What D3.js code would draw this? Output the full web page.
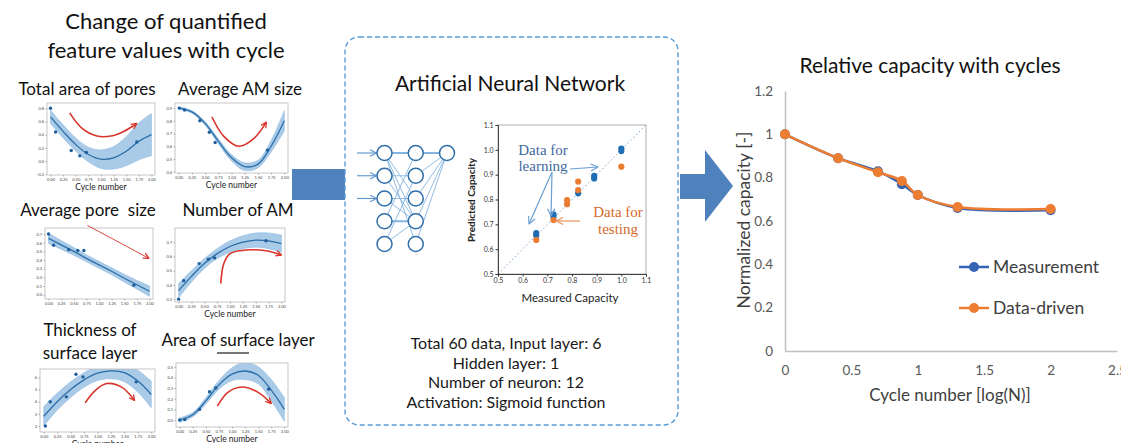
<!DOCTYPE html>
<html>
<head>
<meta charset="utf-8">
<script src="https://cdn.jsdelivr.net/npm/d3@7"></script>
<style>
  html, body { margin: 0; padding: 0; background: #ffffff; }
  svg { display: block; font-family: Lato, "Open Sans", sans-serif; }
</style>
</head>
<body>
<svg id="fig" width="1121" height="443"></svg>
<script>
// ---------------- relative capacity vs. cycles ----------------
const cycleLog   = [0, 0.4, 0.7, 0.88, 1.0, 1.3, 2.0];
const measured   = [1.0, 0.89, 0.83, 0.77, 0.72, 0.66, 0.65];
const dataDriven = [1.0, 0.89, 0.825, 0.785, 0.72, 0.665, 0.655];
const capTicksX  = [0, 0.5, 1, 1.5, 2, 2.5];
const capTicksY  = [0, 0.2, 0.4, 0.6, 0.8, 1, 1.2];
const seriesNames = ["Measurement", "Data-driven"];

// ---------------- ANN parity plot ----------------
const learnMeasured  = [0.655, 0.655, 0.725, 0.725, 0.825, 0.89, 0.89, 1.0, 1.0];
const learnPredicted = [0.665, 0.655, 0.74, 0.73, 0.825, 0.895, 0.885, 1.005, 0.995];
const testMeasured   = [0.655, 0.725, 0.78, 0.78, 0.825, 0.825, 1.0];
const testPredicted  = [0.637, 0.717, 0.798, 0.781, 0.872, 0.838, 0.932];
const parityTicks    = [0.5, 0.6, 0.7, 0.8, 0.9, 1.0, 1.1];
const annNotes = ["Total 60 data, Input layer: 6", "Hidden layer: 1", "Number of neuron: 12", "Activation: Sigmoid function"];

// network sketch: nodes per layer and drawn links (input index -> hidden index)
const layerSizes = [5, 5, 1];
const inputLinks = [[0,0],[0,2],[0,3],[0,4],[1,1],[1,3],[2,2],[2,3],[3,3],[4,3],[3,0],[4,1]];

// ---------------- feature values vs. cycle number ----------------
const fitX = [0, 0.25, 0.5, 0.75, 1.0, 1.25, 1.5, 1.75, 2.0];
const cycleTicks = [0, 0.25, 0.5, 0.75, 1.0, 1.25, 1.5, 1.75, 2.0];

// total area of pores
const poreAreaX    = [0.0, 0.1, 0.41, 0.58, 0.71, 1.71];
const poreAreaY    = [0.80, 0.44, 0.16, 0.08, 0.13, 0.29];
const poreAreaFit  = [0.67, 0.45, 0.25, 0.10, 0.03, 0.05, 0.15, 0.30, 0.40];
const poreAreaBand = [0.10, 0.10, 0.10, 0.11, 0.14, 0.17, 0.22, 0.28, 0.32];
const poreAreaTicks = [-0.2, 0, 0.2, 0.4, 0.6, 0.8];
const poreAreaTrend = [[0.38,0.73],[0.62,0.5],[0.92,0.38],[1.2,0.38],[1.45,0.45],[1.71,0.57]];

// average AM size
const amSizeX    = [0.01, 0.11, 0.4, 0.58, 0.69, 1.68];
const amSizeY    = [0.90, 0.885, 0.80, 0.71, 0.63, 0.57];
const amSizeFit  = [0.90, 0.87, 0.78, 0.64, 0.51, 0.44, 0.46, 0.60, 0.80];
const amSizeBand = [0.01, 0.01, 0.015, 0.02, 0.025, 0.03, 0.03, 0.045, 0.08];
const amSizeTicks = [0.4, 0.5, 0.6, 0.7, 0.8, 0.9];
const amSizeTrend = [[0.63,0.83],[0.85,0.68],[1.14,0.6],[1.42,0.66],[1.66,0.79]];

// average pore size
const poreSizeX    = [0.0, 0.1, 0.4, 0.58, 0.7, 1.69];
const poreSizeY    = [0.70, 0.57, 0.52, 0.51, 0.51, 0.11];
const poreSizeFit  = [0.65, 0.575, 0.50, 0.42, 0.345, 0.27, 0.19, 0.115, 0.04];
const poreSizeBand = [0.06, 0.05, 0.045, 0.04, 0.04, 0.04, 0.045, 0.05, 0.06];
const poreSizeTicks = [0, 0.1, 0.2, 0.3, 0.4, 0.5, 0.6, 0.7];
const poreSizeTrend = [[0.77,0.8],[1.99,0.42]];

// number of AM
const amCountX    = [0.0, 0.1, 0.4, 0.58, 0.7, 1.7];
const amCountY    = [0.30, 0.43, 0.55, 0.58, 0.59, 0.71];
const amCountFit  = [0.36, 0.46, 0.55, 0.62, 0.67, 0.70, 0.715, 0.71, 0.69];
const amCountBand = [0.05, 0.04, 0.035, 0.035, 0.04, 0.045, 0.05, 0.055, 0.06];
const amCountTicks = [0.3, 0.4, 0.5, 0.6, 0.7];
const amCountTrend = [[0.82,0.41],[0.88,0.55],[1.0,0.62],[1.3,0.645],[1.7,0.64],[2.0,0.61]];

// thickness of surface layer
const thickX    = [0.03, 0.12, 0.42, 0.6, 0.73, 1.72];
const thickY    = [2.0, 4.0, 4.4, 6.27, 6.05, 5.64];
const thickFit  = [2.8, 4.0, 5.0, 5.8, 6.35, 6.55, 6.4, 5.7, 4.6];
const thickBand = [0.8, 0.7, 0.65, 0.6, 0.6, 0.65, 0.75, 0.9, 1.1];
const thickTicks = [2, 3, 4, 5, 6];
const thickTrend = [[0.77,3.9],[0.95,4.9],[1.17,5.5],[1.45,5.2],[1.69,4.1]];

// area of surface layer
const layerAreaX    = [0.0, 0.1, 0.38, 0.57, 0.69, 1.7];
const layerAreaY    = [0.0, 0.005, 0.10, 0.265, 0.30, 0.29];
const layerAreaFit  = [0.0, 0.05, 0.18, 0.33, 0.43, 0.46, 0.42, 0.28, 0.10];
const layerAreaBand = [0.02, 0.02, 0.03, 0.04, 0.06, 0.08, 0.08, 0.10, 0.11];
const layerAreaTicks = [0, 0.1, 0.2, 0.3, 0.4, 0.5];
const layerAreaTrend = [[0.72,0.13],[0.92,0.26],[1.19,0.31],[1.5,0.26],[1.75,0.155]];

// ==========================================================
const svg = d3.select("#fig");
const defs = svg.append("defs");

function chevron(id, color, size, width) {
  defs.append("marker")
    .attr("id", id)
    .attr("viewBox", "0 0 10 10")
    .attr("refX", 9).attr("refY", 5)
    .attr("markerWidth", size).attr("markerHeight", size)
    .attr("markerUnits", "userSpaceOnUse")
    .attr("orient", "auto")
    .append("path")
    .attr("d", "M1,1 L9,5 L1,9")
    .attr("fill", "none")
    .attr("stroke", color)
    .attr("stroke-width", width)
    .attr("stroke-linejoin", "round");
}
chevron("headRed", "#d9342b", 7, 1.8);
chevron("headBlue", "#6b9fd4", 9, 1.3);
chevron("headOrange", "#e8935a", 9, 1.3);
chevron("headNet", "#5b93cc", 8, 1.3);

svg.append("rect").attr("width", 1121).attr("height", 443).attr("fill", "#ffffff");

// ---------------- left: feature panels ----------------
const heading = svg.append("text")
  .attr("text-anchor", "middle").attr("font-size", 22).attr("fill", "#111");
heading.append("tspan").attr("x", 166).attr("y", 29).text("Change of quantified");
heading.append("tspan").attr("x", 166).attr("y", 58).text("feature values with cycle");

const panels = [
  { title: ["Total area of pores"], tx: 87, ty: [95], box: [47, 155, 103, 175], yDom: [-0.21, 0.88],
    px: poreAreaX, py: poreAreaY, fit: poreAreaFit, band: poreAreaBand, ticks: poreAreaTicks, trend: poreAreaTrend, fmt: ".1f", caption: true },
  { title: ["Average AM size"], tx: 240, ty: [95], box: [175, 288, 103, 173], yDom: [0.39, 0.94],
    px: amSizeX, py: amSizeY, fit: amSizeFit, band: amSizeBand, ticks: amSizeTicks, trend: amSizeTrend, fmt: ".1f", caption: true },
  { title: ["Average pore  size"], tx: 88, ty: [216], box: [45, 153, 228, 299], yDom: [-0.05, 0.77],
    px: poreSizeX, py: poreSizeY, fit: poreSizeFit, band: poreSizeBand, ticks: poreSizeTicks, trend: poreSizeTrend, fmt: ".1f", caption: false, straight: true },
  { title: ["Number of AM"], tx: 238, ty: [216], box: [175, 285, 228, 302], yDom: [0.28, 0.80],
    px: amCountX, py: amCountY, fit: amCountFit, band: amCountBand, ticks: amCountTicks, trend: amCountTrend, fmt: ".1f", caption: true },
  { title: ["Thickness of", "surface layer"], tx: 90, ty: [336, 359], box: [40, 155, 369, 432], yDom: [1.5, 6.7],
    px: thickX, py: thickY, fit: thickFit, band: thickBand, ticks: thickTicks, trend: thickTrend, fmt: ".0f", caption: true },
  { title: ["Area of surface layer"], tx: 238, ty: [346], box: [176, 288, 363, 427], yDom: [-0.065, 0.535],
    px: layerAreaX, py: layerAreaY, fit: layerAreaFit, band: layerAreaBand, ticks: layerAreaTicks, trend: layerAreaTrend, fmt: ".1f", caption: true }
];

panels.forEach((p, k) => {
  const [x0, x1, y0, y1] = p.box;
  const x = d3.scaleLinear().domain([-0.07, 2.07]).range([x0, x1]);
  const y = d3.scaleLinear().domain(p.yDom).range([y1, y0]);
  const g = svg.append("g");

  p.title.forEach((t, i) => {
    g.append("text").attr("x", p.tx).attr("y", p.ty[i])
      .attr("text-anchor", "middle").attr("font-size", 17).attr("fill", "#111")
      .style("white-space", "pre").text(t);
  });

  const clipId = "clip" + k;
  defs.append("clipPath").attr("id", clipId)
    .append("rect").attr("x", x0).attr("y", y0).attr("width", x1 - x0).attr("height", y1 - y0);

  const inner = g.append("g").attr("clip-path", `url(#${clipId})`);
  const curve = p.straight ? d3.curveLinear : d3.curveCatmullRom.alpha(0.5);

  inner.append("path")
    .datum(fitX)
    .attr("d", d3.area()
      .x(d => x(d))
      .y0((d, i) => y(p.fit[i] - p.band[i]))
      .y1((d, i) => y(p.fit[i] + p.band[i]))
      .curve(curve))
    .attr("fill", "#a9cbe8").attr("stroke", "#8fbbe0").attr("stroke-width", 0.6);

  inner.append("path")
    .datum(fitX)
    .attr("d", d3.line().x(d => x(d)).y((d, i) => y(p.fit[i])).curve(curve))
    .attr("fill", "none").attr("stroke", "#2b6ea8").attr("stroke-width", 1.3);

  inner.selectAll("circle.pt").data(p.px).join("circle")
    .attr("class", "pt")
    .attr("cx", d => x(d)).attr("cy", (d, i) => y(p.py[i]))
    .attr("r", 1.7).attr("fill", "#1f5f9c");

  // frame
  g.append("rect").attr("x", x0).attr("y", y0).attr("width", x1 - x0).attr("height", y1 - y0)
    .attr("fill", "none").attr("stroke", "#b8b8b8").attr("stroke-width", 0.8);

  // axes
  const ax = g.append("g").attr("transform", `translate(0,${y1})`)
    .call(d3.axisBottom(x).tickValues(cycleTicks).tickFormat(d3.format(".2f")).tickSize(1.5).tickPadding(1.5));
  const ay = g.append("g").attr("transform", `translate(${x0},0)`)
    .call(d3.axisLeft(y).tickValues(p.ticks).tickFormat(d3.format(p.fmt)).tickSize(1.5).tickPadding(1.5));
  [ax, ay].forEach(a => {
    a.select(".domain").remove();
    a.selectAll("line").attr("stroke", "#666").attr("stroke-width", 0.5);
    a.selectAll("text").attr("font-size", 4).attr("fill", "#444").attr("font-family", "Lato, sans-serif");
  });

  if (p.caption) {
    g.append("text").attr("x", (x0 + x1) / 2).attr("y", y1 + 15)
      .attr("text-anchor", "middle").attr("font-size", 8.5).attr("fill", "#222")
      .text("Cycle number");
  }

  // trend arrow
  g.append("path")
    .datum(p.trend)
    .attr("d", d3.line().x(d => x(d[0])).y(d => y(d[1]))
      .curve(p.trend.length > 2 ? d3.curveCatmullRom.alpha(0.5) : d3.curveLinear))
    .attr("fill", "none").attr("stroke", "#d9342b")
    .attr("stroke-width", p.trend.length > 2 ? 1.6 : 0.9)
    .attr("marker-end", "url(#headRed)");
});

// small grey bar above the last panel
svg.append("line").attr("x1", 217).attr("x2", 249).attr("y1", 353).attr("y2", 353)
  .attr("stroke", "#777").attr("stroke-width", 2);

// ---------------- block arrows ----------------
svg.append("rect").attr("x", 292).attr("y", 169).attr("width", 53).attr("height", 31).attr("fill", "#4f81bd");
svg.append("path")
  .attr("d", "M680,174 L705,174 L705,150 L733,186 L705,222 L705,199 L680,199 Z")
  .attr("fill", "#4f81bd");

// ---------------- middle: ANN box ----------------
svg.append("rect").attr("x", 345).attr("y", 37).attr("width", 333).attr("height", 388)
  .attr("rx", 14).attr("ry", 14)
  .attr("fill", "#ffffff").attr("stroke", "#5b9bd5").attr("stroke-width", 1.4)
  .attr("stroke-dasharray", "5,3");

svg.append("text").attr("x", 510).attr("y", 91).attr("text-anchor", "middle")
  .attr("font-size", 21).attr("fill", "#111").text("Artificial Neural Network");

// network sketch
const layerX = d3.scalePoint().domain(d3.range(layerSizes.length)).range([384.5, 447]);
const rowY = d3.scalePoint().domain(d3.range(5)).range([153, 244]);
const net = svg.append("g");
inputLinks.forEach(([a, b]) => {
  net.append("line")
    .attr("x1", layerX(0)).attr("y1", rowY(a)).attr("x2", layerX(1)).attr("y2", rowY(b))
    .attr("stroke", "#86b4e0").attr("stroke-width", a === b && (a === 0 || a === 3) ? 2 : 0.9);
});
d3.range(layerSizes[1]).forEach(b => {
  net.append("line")
    .attr("x1", layerX(1)).attr("y1", rowY(b)).attr("x2", layerX(2)).attr("y2", rowY(0))
    .attr("stroke", "#86b4e0").attr("stroke-width", b === 0 ? 2 : 0.9);
});
d3.range(3).forEach(i => {
  net.append("line")
    .attr("x1", 357).attr("y1", rowY(i)).attr("x2", layerX(0) - 8).attr("y2", rowY(i))
    .attr("stroke", "#5b93cc").attr("stroke-width", 1.1).attr("marker-end", "url(#headNet)");
});
layerSizes.forEach((n, l) => {
  d3.range(n).forEach(i => {
    net.append("circle").attr("cx", layerX(l)).attr("cy", rowY(i)).attr("r", 7.5)
      .attr("fill", "#ffffff").attr("stroke", "#2f6ea8").attr("stroke-width", 1.5);
  });
});

// parity plot
const px = d3.scaleLinear().domain([0.5, 1.1]).range([498, 646]);
const py = d3.scaleLinear().domain([0.5, 1.1]).range([274, 125]);
const par = svg.append("g");
par.append("rect").attr("x", 498).attr("y", 125).attr("width", 148).attr("height", 149)
  .attr("fill", "none").attr("stroke", "#9a9a9a").attr("stroke-width", 0.8);
par.append("line")
  .attr("x1", px(0.5)).attr("y1", py(0.5)).attr("x2", px(1.1)).attr("y2", py(1.1))
  .attr("stroke", "#6fa3d6").attr("stroke-width", 1).attr("stroke-dasharray", "1.5,2.5");
const pax = par.append("g").attr("transform", "translate(0,274)")
  .call(d3.axisBottom(px).tickValues(parityTicks).tickFormat(d3.format(".1f")).tickSize(2.5).tickPadding(2));
const pay = par.append("g").attr("transform", "translate(498,0)")
  .call(d3.axisLeft(py).tickValues(parityTicks).tickFormat(d3.format(".1f")).tickSize(2.5).tickPadding(2));
[pax, pay].forEach(a => {
  a.select(".domain").attr("stroke", "#333").attr("stroke-width", 0.9);
  a.selectAll("line").attr("stroke", "#333");
  a.selectAll("text").attr("font-size", 7).attr("fill", "#333").attr("font-family", "Lato, sans-serif");
});
par.append("text").attr("x", 570).attr("y", 302).attr("text-anchor", "middle")
  .attr("font-size", 11.5).attr("fill", "#222").text("Measured Capacity");
par.append("text").attr("transform", "translate(475,200) rotate(-90)")
  .attr("text-anchor", "middle").attr("font-size", 10).attr("font-weight", 700)
  .attr("fill", "#222").text("Predicted Capacity");

par.selectAll("circle.learn").data(learnMeasured).join("circle").attr("class", "learn")
  .attr("cx", d => px(d)).attr("cy", (d, i) => py(learnPredicted[i])).attr("r", 3.1).attr("fill", "#1f6db3");
par.selectAll("circle.test").data(testMeasured).join("circle").attr("class", "test")
  .attr("cx", d => px(d)).attr("cy", (d, i) => py(testPredicted[i])).attr("r", 3.1).attr("fill", "#ec7c31");

const serif = "'Liberation Serif', 'DejaVu Serif', serif";
const learnTxt = par.append("text").attr("text-anchor", "middle").attr("font-family", serif)
  .attr("font-size", 15).attr("fill", "#41699b");
learnTxt.append("tspan").attr("x", 543).attr("y", 155).text("Data for");
learnTxt.append("tspan").attr("x", 543).attr("y", 171).text("learning");
const testTxt = par.append("text").attr("text-anchor", "middle").attr("font-family", serif)
  .attr("font-size", 15).attr("fill", "#d5692a");
testTxt.append("tspan").attr("x", 618).attr("y", 217).text("Data for");
testTxt.append("tspan").attr("x", 618).attr("y", 234).text("testing");

[[570, 169, 598, 167], [552, 172, 529, 224], [552, 172, 551, 216]].forEach(([a, b, c, d]) => {
  par.append("line").attr("x1", a).attr("y1", b).attr("x2", c).attr("y2", d)
    .attr("stroke", "#6b9fd4").attr("stroke-width", 1.2).attr("marker-end", "url(#headBlue)");
});
par.append("line").attr("x1", 580).attr("y1", 221).attr("x2", 556).attr("y2", 221)
  .attr("stroke", "#e8935a").attr("stroke-width", 1.2).attr("marker-end", "url(#headOrange)");

const notes = svg.append("text").attr("text-anchor", "middle").attr("font-size", 16).attr("fill", "#1a1a1a");
annNotes.forEach((t, i) => notes.append("tspan").attr("x", 506).attr("y", 349 + i * 19.5).text(t));

// ---------------- right: capacity chart ----------------
const cx = d3.scaleLinear().domain([0, 2.5]).range([785, 1117]);
const cy = d3.scaleLinear().domain([0, 1.2]).range([351, 91]);
const cap = svg.append("g");

cap.append("text").attr("x", 930).attr("y", 73).attr("text-anchor", "middle")
  .attr("font-size", 21).attr("fill", "#111").text("Relative capacity with cycles");

const cax = cap.append("g").attr("transform", "translate(0,351)")
  .call(d3.axisBottom(cx).tickValues(capTicksX).tickFormat(d => String(d)).tickSize(0).tickPadding(14));
const cay = cap.append("g").attr("transform", "translate(785,0)")
  .call(d3.axisLeft(cy).tickValues(capTicksY).tickFormat(d => String(d)).tickSize(0).tickPadding(12));
[cax, cay].forEach(a => {
  a.select(".domain").attr("stroke", "#bfbfbf").attr("stroke-width", 1.5);
  a.selectAll("text").attr("font-size", 13.5).attr("fill", "#595959").attr("font-family", "Lato, sans-serif");
});

cap.append("text").attr("x", 950).attr("y", 401).attr("text-anchor", "middle")
  .attr("font-size", 17).attr("fill", "#404040").text("Cycle number [log(N)]");
cap.append("text").attr("transform", "translate(750,220) rotate(-90)")
  .attr("text-anchor", "middle").attr("font-size", 17.5).attr("fill", "#404040")
  .text("Normalized capacity [-]");

const seriesColors = ["#3463b3", "#ed7d31"];
[measured, dataDriven].forEach((vals, s) => {
  cap.append("path")
    .datum(cycleLog)
    .attr("d", d3.line().x(d => cx(d)).y((d, i) => cy(vals[i])).curve(d3.curveCatmullRom.alpha(0.5)))
    .attr("fill", "none").attr("stroke", seriesColors[s]).attr("stroke-width", 2.5);
  cap.selectAll(null).data(cycleLog).join("circle")
    .attr("cx", d => cx(d)).attr("cy", (d, i) => cy(vals[i]))
    .attr("r", 5).attr("fill", seriesColors[s]);
});

// legend
seriesNames.forEach((name, s) => {
  const ly = 267 + s * 41;
  cap.append("line").attr("x1", 959).attr("x2", 989).attr("y1", ly).attr("y2", ly)
    .attr("stroke", seriesColors[s]).attr("stroke-width", 2.5);
  cap.append("circle").attr("cx", 974).attr("cy", ly).attr("r", 5).attr("fill", seriesColors[s]);
  cap.append("text").attr("x", 993).attr("y", ly).attr("dy", "0.35em")
    .attr("font-size", 17.5).attr("fill", "#404040").text(name);
});
</script>
</body>
</html>
